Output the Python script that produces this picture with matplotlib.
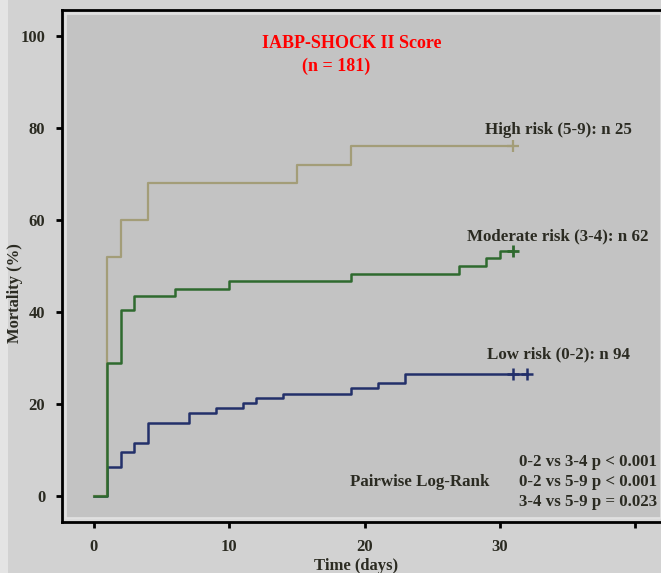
import matplotlib
matplotlib.use('Agg')
import matplotlib.pyplot as plt
from matplotlib.patches import Rectangle

plt.rcParams['font.family'] = ['Liberation Serif', 'DejaVu Serif']

# Kaplan-Meier step data (day, cumulative mortality %)
high_t = [0, 1, 2, 4, 15, 19, 31]
high_y = [0, 52, 60, 68, 72, 76, 76]
high_cens = [31]

mod_t = [0, 1, 2, 3, 6, 10, 19, 27, 29, 30, 31]
mod_y = [0, 29, 40.4, 43.5, 45.1, 46.7, 48.3, 50.0, 51.7, 53.2, 53.2]
mod_cens = [31]

low_t = [0, 1, 2, 3, 4, 7, 9, 11, 12, 14, 19, 21, 23, 32]
low_y = [0, 6.4, 9.5, 11.6, 16.0, 18.0, 19.1, 20.2, 21.3, 22.3, 23.4, 24.5, 26.6, 26.6]
low_cens = [31, 32]

labels = ['High risk (5-9): n 25', 'Moderate risk (3-4): n 62', 'Low risk (0-2): n 94']
pvals = ['0-2 vs 3-4 p < 0.001', '0-2 vs 5-9 p < 0.001', '3-4 vs 5-9 p = 0.023']

c_high = '#a39d78'
c_mod = '#2f6a2f'
c_low = '#23306a'
txt = '#2b2b22'

fig = plt.figure(figsize=(6.61, 5.73), dpi=100, facecolor='#d2d2d2')
# light strip at the far left edge
fig.patches.append(Rectangle((0, 0), 8/661, 1, transform=fig.transFigure,
                             facecolor='#e4e4e4', edgecolor='none', zorder=0))
ax = fig.add_axes([62/661, 1 - 522/573, 1 - 62/661, 512/573])
ax.set_facecolor('#dadada')
ax.add_patch(Rectangle((0.006, 0.008), 0.994, 0.984, transform=ax.transAxes,
                       facecolor='#c3c3c3', edgecolor='#e2e2e2', lw=1.2, zorder=0))

ax.step(low_t, low_y, where='post', color=c_low, lw=1.8, zorder=3)
ax.step(high_t, high_y, where='post', color=c_high, lw=1.6, zorder=3)
ax.step(mod_t, mod_y, where='post', color=c_mod, lw=1.8, zorder=4)
ax.plot(high_cens, [high_y[-1]] * len(high_cens), '+', color=c_high, ms=9, mew=1.6, zorder=5)
ax.plot(mod_cens, [mod_y[-1]] * len(mod_cens), '+', color=c_mod, ms=9, mew=2, zorder=5)
ax.plot(low_cens, [low_y[-1]] * len(low_cens), '+', color=c_low, ms=9, mew=1.8, zorder=5)

ax.set_xlim(-2.35, 41.9)
ax.set_ylim(-5.6, 105.6)
ax.set_xticks([0, 10, 20, 30, 40])
ax.set_xticklabels(['0', '10', '20', '30', ''])
ax.set_yticks([0, 20, 40, 60, 80, 100])
ax.tick_params(direction='out', length=4, width=2, color='black', labelsize=12,
               labelcolor=txt, pad=8)
for lab in ax.get_xticklabels() + ax.get_yticklabels():
    lab.set_fontweight('bold')

for s in ['top', 'left', 'bottom']:
    ax.spines[s].set_linewidth(2)
    ax.spines[s].set_color('black')
ax.spines['right'].set_visible(False)

fig.text(356/661, 1 - 566/573, 'Time (days)', ha='center', va='center', fontsize=12,
         fontweight='bold', color=txt)
fig.text(15/661, 1 - 293/573, 'Mortality (%)', rotation=90, ha='center', va='center',
         fontsize=12, fontweight='bold', color=txt)

fig.text(352/661, 1 - 44/573, 'IABP-SHOCK II Score', ha='center', va='center',
         fontsize=13, fontweight='bold', color='red')
fig.text(336/661, 1 - 66/573, '(n = 181)', ha='center', va='center',
         fontsize=13, fontweight='bold', color='red')

lab_x = 34.3
ax.text(lab_x, 77.7, labels[0], ha='center', va='bottom', fontsize=12.2, fontweight='bold', color=txt)
ax.text(lab_x, 54.7, labels[1], ha='center', va='bottom', fontsize=12.2, fontweight='bold', color=txt)
ax.text(lab_x, 29.0, labels[2], ha='center', va='bottom', fontsize=12.2, fontweight='bold', color=txt)

ax.text(24.1, 3.1, 'Pairwise Log-Rank', ha='center', va='center', fontsize=12.2,
        fontweight='bold', color=txt)
for i, p in enumerate(pvals):
    ax.text(41.6, 7.4 - 4.35 * i, p, ha='right', va='center', fontsize=12.2,
            fontweight='bold', color=txt)

fig.savefig('out.png', dpi=100, facecolor=fig.get_facecolor())
